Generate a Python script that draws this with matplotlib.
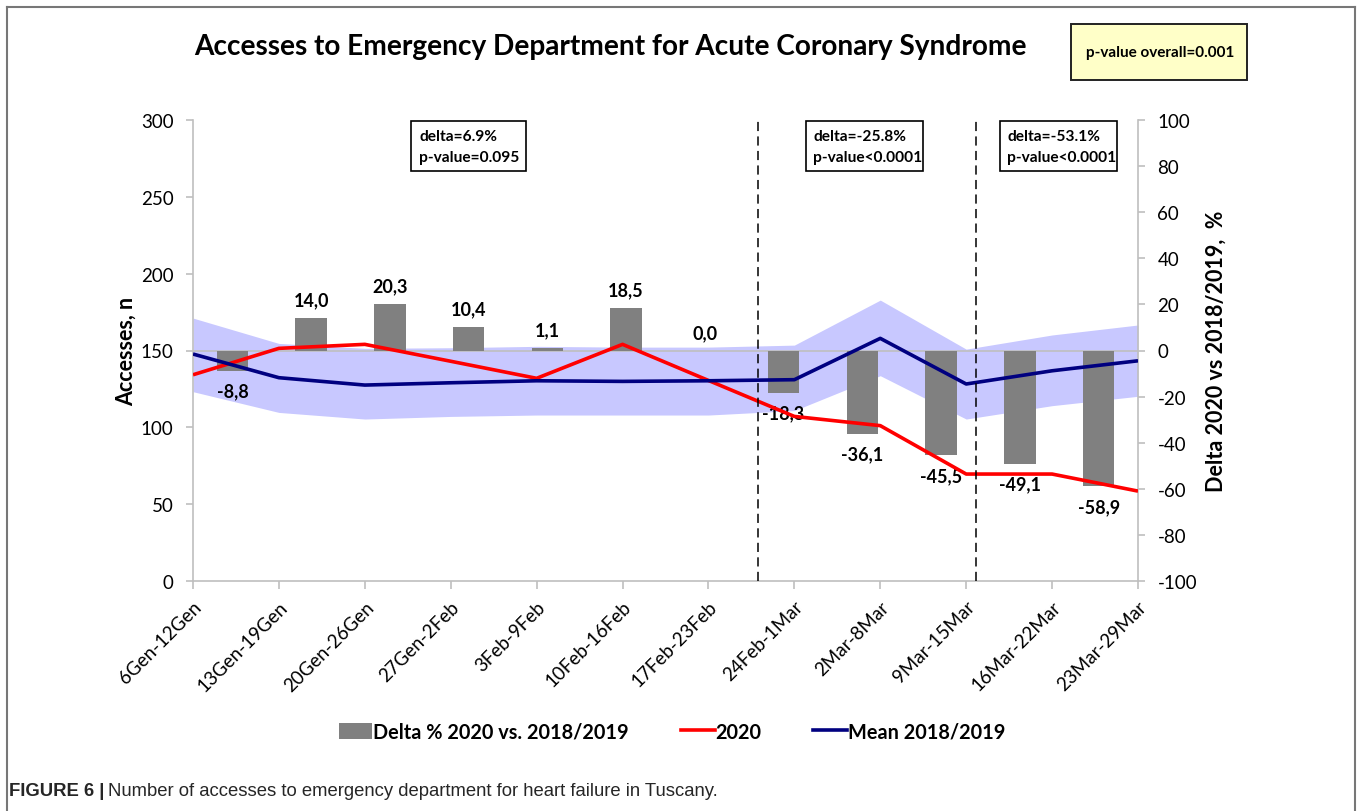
import matplotlib
matplotlib.use("Agg")
import matplotlib.pyplot as plt
from matplotlib.patches import Rectangle, Patch
from matplotlib.lines import Line2D

# ---------------- data ----------------
categories = ['6Gen-12Gen', '13Gen-19Gen', '20Gen-26Gen', '27Gen-2Feb', '3Feb-9Feb',
              '10Feb-16Feb', '17Feb-23Feb', '24Feb-1Mar', '2Mar-8Mar', '9Mar-15Mar',
              '16Mar-22Mar', '23Mar-29Mar']
delta_pct = [-8.8, 14.0, 20.3, 10.4, 1.1, 18.5, 0.0, -18.3, -36.1, -45.5, -49.1, -58.9]
acc_2020 = [134.2, 151.4, 154.0, 143.0, 131.9, 154.0, 130.5, 107.1, 101.1, 69.6, 69.6, 58.5]
mean_1819 = [147.7, 132.3, 127.5, 129.0, 130.3, 129.9, 130.3, 131.0, 157.9, 128.2, 136.8, 143.3]
band_upper = [171.1, 154.6, 151.4, 151.8, 152.7, 152.2, 152.2, 153.5, 182.8, 150.9, 160.1, 166.6]
band_lower = [123.2, 109.7, 105.4, 107.1, 108.0, 108.0, 108.0, 110.9, 133.6, 105.4, 114.1, 120.2]
period_boxes = [("delta=6.9%", "p-value=0.095"),
                ("delta=-25.8%", "p-value<0.0001"),
                ("delta=-53.1%", "p-value<0.0001")]
left_ticks = [0, 50, 100, 150, 200, 250, 300]
right_ticks = [-100, -80, -60, -40, -20, 0, 20, 40, 60, 80, 100]

W, H = 1358, 812
CAL = ['Lato', 'DejaVu Sans']
plt.rcParams['font.family'] = CAL

fig = plt.figure(figsize=(W / 100, H / 100), dpi=100)


def fx(px):
    return px / W


def fy(py):
    return 1 - py / H


ax_l, ax_r, ax_t, ax_b = 193, 1138, 121, 582
pos = [fx(ax_l), fy(ax_b), fx(ax_r) - fx(ax_l), fy(ax_t) - fy(ax_b)]
GRAY = '#BFBFBF'

n = len(categories)
xl = list(range(n))

# ---- bottom axes: band + left axis ----
ax = fig.add_axes(pos)
ax.set_xlim(0, n - 1)
ax.set_ylim(0, 300)
ax.fill_between(xl, band_lower, band_upper, color='#C8C8FF', lw=0, zorder=1)
for s in ['top', 'right']:
    ax.spines[s].set_visible(False)
for s in ['left', 'bottom']:
    ax.spines[s].set_color(GRAY)
    ax.spines[s].set_linewidth(1.2)
ax.set_yticks(left_ticks)
ax.set_yticklabels([str(t) for t in left_ticks])
ax.tick_params(axis='y', length=5, colors=GRAY, labelcolor='black', width=1.2, pad=9, labelsize=13.5)
ax.set_xticks(xl)
ax.set_xticklabels(categories, rotation=45, ha='right', va='top', rotation_mode='anchor', fontsize=13.5)
ax.tick_params(axis='x', length=6, color=GRAY, width=1.2, pad=6)
ax.set_ylabel('Accesses, n', fontsize=15.5, fontweight='bold', labelpad=3)

# ---- middle axes: bars + right axis ----
axb = fig.add_axes(pos)
axb.patch.set_visible(False)
axb.set_xlim(-0.5, n - 0.5)
axb.set_ylim(-100, 100)
axb.axhline(0, color=GRAY, lw=1.2, zorder=1)
xb = list(range(n))
axb.bar(xb, delta_pct, width=0.4, color='#808080', zorder=2)
for i, v in enumerate(delta_pct):
    lab = f"{v:.1f}".replace('.', ',')
    off = 13 if v >= 0 else -14.5
    axb.annotate(lab, (i, v), xytext=(0, off), textcoords='offset points',
                 ha='center', va='center', fontsize=13, fontweight='bold')
for s in ['top', 'left', 'bottom']:
    axb.spines[s].set_visible(False)
axb.spines['right'].set_color(GRAY)
axb.spines['right'].set_linewidth(1.2)
axb.set_xticks([])
axb.yaxis.tick_right()
axb.yaxis.set_label_position('right')
axb.set_yticks(right_ticks)
axb.set_yticklabels([str(t) for t in right_ticks])
axb.tick_params(axis='y', length=5, colors=GRAY, labelcolor='black', width=1.2, pad=9, labelsize=13.5)
axb.set_ylabel('Delta 2020 vs 2018/2019,  %', fontsize=15.5, fontweight='bold', labelpad=6, rotation=90)

# ---- top axes: lines ----
axn = fig.add_axes(pos)
axn.patch.set_visible(False)
axn.set_xlim(0, n - 1)
axn.set_ylim(0, 300)
axn.plot(xl, acc_2020, color='#FF0000', lw=2.6, zorder=3, solid_capstyle='butt')
axn.plot(xl, mean_1819, color='#000080', lw=2.6, zorder=3, solid_capstyle='butt')
for xv in [6.58, 9.11]:
    axn.axvline(xv, ymin=0, ymax=0.997, color='black', lw=1.1, dashes=(6, 3.5), zorder=4)
axn.axis('off')

# ---- annotation boxes ----
box_px = [(411, 526, 419), (806, 923, 813), (1000, 1117, 1007)]
for (x0, x1, tx), (l1, l2) in zip(box_px, period_boxes):
    fig.patches.append(Rectangle((fx(x0), fy(172)), fx(x1) - fx(x0), fy(122) - fy(172),
                                 transform=fig.transFigure, fill=True, facecolor='white',
                                 edgecolor='black', lw=1.2, zorder=5))
    fig.text(fx(tx), fy(137), l1, ha='left', va='center', fontsize=11.2, fontweight='bold', zorder=6)
    fig.text(fx(tx), fy(158), l2, ha='left', va='center', fontsize=11.2, fontweight='bold', zorder=6)

# p-value overall box
fig.patches.append(Rectangle((fx(1071), fy(81)), fx(1247) - fx(1071), fy(25) - fy(81),
                             transform=fig.transFigure, facecolor='#FFFFC8',
                             edgecolor='#222222', lw=1.4, zorder=5))
fig.text(fx(1160), fy(53), 'p-value overall=0.001', ha='center', va='center',
         fontsize=11, fontweight='bold', zorder=6)

# title
fig.text(fx(610), fy(47), 'Accesses to Emergency Department for Acute Coronary Syndrome',
         ha='center', va='center', fontsize=20.2, fontweight='bold')

# legend
handles = [Patch(facecolor='#808080', edgecolor='none'),
           Line2D([0], [0], color='#FF0000', lw=2.6),
           Line2D([0], [0], color='#000080', lw=2.6)]
labels = ['Delta % 2020 vs. 2018/2019', '2020', 'Mean 2018/2019']
fig.legend(handles, labels, loc='center', bbox_to_anchor=(fx(672), fy(733)), ncol=3,
           frameon=False, prop={'family': CAL, 'weight': 'bold', 'size': 14.3},
           handlelength=1.7, handletextpad=0.05, columnspacing=2.6, handleheight=0.9)

# outer frame (open at bottom)
fr = dict(transform=fig.transFigure, color='#777777', lw=1.5)
fig.add_artist(Line2D([fx(7), fx(1355)], [fy(8), fy(8)], **fr))
fig.add_artist(Line2D([fx(7), fx(7)], [fy(8), fy(812)], **fr))
fig.add_artist(Line2D([fx(1355), fx(1355)], [fy(8), fy(812)], **fr))

# caption
CAP = ['Liberation Sans', 'DejaVu Sans']
t1 = fig.text(fx(9), fy(792), 'FIGURE 6 |', ha='left', va='center', fontsize=13.3,
              fontweight='bold', family=CAP, color='#262626')
fig.canvas.draw()
bb = t1.get_window_extent()
fig.text(fx(bb.x1 + 4), fy(792), 'Number of accesses to emergency department for heart failure in Tuscany.',
         ha='left', va='center', fontsize=13.3, family=CAP, color='#262626')

fig.savefig('out.png', dpi=100)
